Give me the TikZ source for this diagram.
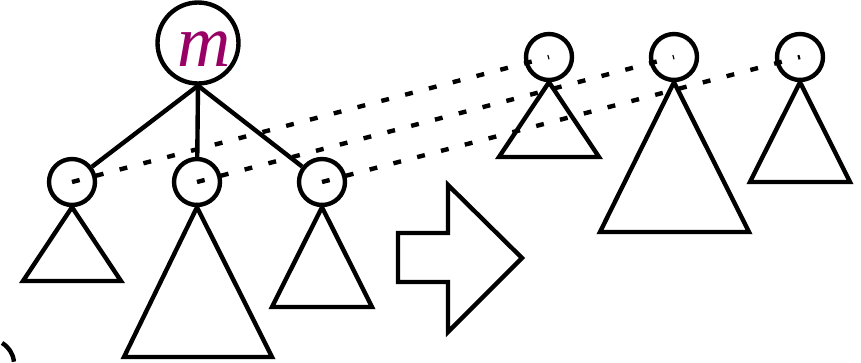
\documentclass[tikz,border=0pt]{standalone}
\usepackage{fontspec}
\newfontfamily\mfont{Liberation Serif}
\usepackage{xcolor}
\usetikzlibrary{calc}
\definecolor{mcol}{RGB}{153,0,102}
\begin{document}
\begin{tikzpicture}[x=0.02cm,y=-0.02cm,line width=2.5pt,
  v/.style={circle,draw,minimum size=0.92cm,inner sep=0pt},
  dots/.style={dash pattern=on 4.5pt off 9.5pt}]
  \useasboundingbox (0,0) rectangle (861,362);
  \node[v,minimum size=1.62cm](m)at(198,43){};
  \node[text=mcol,font=\mfont\itshape\fontsize{42}{44}\selectfont,anchor=base,inner sep=0pt](mlab)at(204,66){m};
  \node[v](c1)at(72,182){};\node[v](c2)at(197,182){};\node[v](c3)at(322,182){};
  \node[v](r1)at(549,57){};\node[v](r2)at(674,57){};\node[v](r3)at(800,57){};
  \draw(m.south)--(c1);\draw(m.south)--(c2);\draw(m.south)--(c3);
  % subtrees
  \draw(c1.south)--(23,281)--(121,281)--cycle;
  \draw(c2.south)--(124,357)--(272,357)--cycle;
  \draw(c3.south)--(272,307)--(372,307)--cycle;
  \draw(r1.south)--(499,157)--(599,157)--cycle;
  \draw(r2.south)--(600,232)--(749,232)--cycle;
  \draw(r3.south)--(750,182)--(850,182)--cycle;
  % arrow
  \draw(398,233)--(448,233)--(448,185)--(522,258)--(448,332)--(448,282)--(398,282)--cycle;
  \draw[dots](c1.center)--(r1.center);\draw[dots](c2.center)--(r2.center);\draw[dots](c3.center)--(r3.center);
  \draw(2,343)arc[start angle=60,end angle=5,radius=0.48cm];
\end{tikzpicture}
\end{document}
